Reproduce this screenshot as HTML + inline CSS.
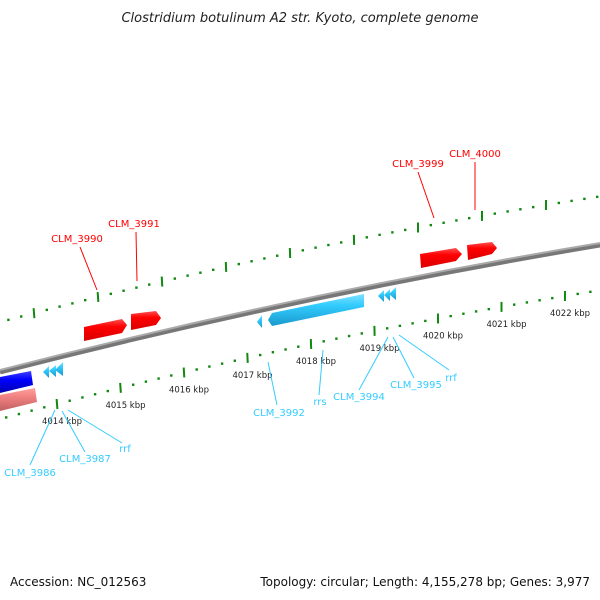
<!DOCTYPE html>
<html><head><meta charset="utf-8"><style>
html,body{margin:0;padding:0;background:#fff}
svg{display:block;font-family:"DejaVu Sans","Liberation Sans",sans-serif}
</style></head><body>
<svg id="map" width="600" height="600" viewBox="0 0 600 600">
<defs>
<linearGradient id="red" x1="0" y1="0" x2="0" y2="1"><stop offset="0" stop-color="#ff5050"/><stop offset="0.35" stop-color="#ff0000"/><stop offset="1" stop-color="#d80000"/></linearGradient>
<linearGradient id="cyan" x1="0" y1="0" x2="0" y2="1"><stop offset="0" stop-color="#7fe0ff"/><stop offset="0.35" stop-color="#33ccff"/><stop offset="1" stop-color="#1a99cc"/></linearGradient>
<linearGradient id="blue" x1="0" y1="0" x2="0" y2="1"><stop offset="0" stop-color="#4040ff"/><stop offset="0.4" stop-color="#0000ff"/><stop offset="1" stop-color="#0000b0"/></linearGradient>
<linearGradient id="pink" x1="0" y1="0" x2="0" y2="1"><stop offset="0" stop-color="#ffa0a0"/><stop offset="0.4" stop-color="#f08080"/><stop offset="1" stop-color="#c06060"/></linearGradient>
</defs>
<text x="300" y="22" text-anchor="middle" font-size="13" font-style="italic" fill="#222">Clostridium botulinum A2 str. Kyoto, complete genome</text>
<path d="M0,372 Q300,295 600,245" stroke="#777" stroke-width="5" fill="none"/>
<path d="M0,370 Q300,293 600,243" stroke="#aaa" stroke-width="2" fill="none"/>
<g id="lower"></g><g id="upper"></g>
<g>
<polygon points="84,327 122,319 127,325 122,333 84,341" fill="url(#red)"/>
<polygon points="131,314 156,311 161,318 156,325 131,330" fill="url(#red)"/>
<polygon points="420,254 456,248 462,254 456,261 421,268" fill="url(#red)"/>
<polygon points="467,245 492,242 497,248 492,254 468,260" fill="url(#red)"/>
<polygon points="268,320 272,313 364,294 364,307 272,326" fill="url(#cyan)"/>
<polygon points="257,322 262,315 262,328" fill="url(#cyan)"/>
<polygon points="378,296 384,290 384,302" fill="url(#cyan)"/>
<polygon points="384,295 390,289 390,301" fill="url(#cyan)"/>
<polygon points="389,294 396,287 396,300" fill="url(#cyan)"/>
<polygon points="43,372 49,366 49,378" fill="url(#cyan)"/>
<polygon points="49,371 56,365 56,377" fill="url(#cyan)"/>
<polygon points="55,370 63,362 63,376" fill="url(#cyan)"/>
<polygon points="0,377 31,371 33,385 0,393" fill="url(#blue)"/>
<polygon points="0,395 35,388 37,402 0,411" fill="url(#pink)"/>
</g>
<g font-size="10" fill="#ff0000" stroke-width="1">
<line x1="80" y1="247" x2="97" y2="290" stroke="#ff0000"/><text x="77" y="242" text-anchor="middle">CLM_3990</text>
<line x1="136" y1="232" x2="137" y2="281" stroke="#ff0000"/><text x="134" y="227" text-anchor="middle">CLM_3991</text>
<line x1="418" y1="172" x2="434" y2="218" stroke="#ff0000"/><text x="418" y="167" text-anchor="middle">CLM_3999</text>
<line x1="475" y1="162" x2="475" y2="210" stroke="#ff0000"/><text x="475" y="157" text-anchor="middle">CLM_4000</text>
</g>
<g font-size="10" fill="#33ccff">
<line x1="55" y1="410" x2="30" y2="465" stroke="#33ccff"/><text x="30" y="476" text-anchor="middle">CLM_3986</text>
<line x1="62" y1="411" x2="85" y2="452" stroke="#33ccff"/><text x="85" y="462" text-anchor="middle">CLM_3987</text>
<line x1="68" y1="410" x2="122" y2="443" stroke="#33ccff"/><text x="125" y="452" text-anchor="middle">rrf</text>
<line x1="268" y1="362" x2="277" y2="405" stroke="#33ccff"/><text x="279" y="416" text-anchor="middle">CLM_3992</text>
<line x1="323" y1="350" x2="319" y2="395" stroke="#33ccff"/><text x="320" y="405" text-anchor="middle">rrs</text>
<line x1="388" y1="337" x2="359" y2="390" stroke="#33ccff"/><text x="359" y="400" text-anchor="middle">CLM_3994</text>
<line x1="393" y1="337" x2="414" y2="378" stroke="#33ccff"/><text x="416" y="388" text-anchor="middle">CLM_3995</text>
<line x1="399" y1="335" x2="449" y2="370" stroke="#33ccff"/><text x="451" y="381" text-anchor="middle">rrf</text>
</g>
<text x="10" y="586" font-size="12" fill="#111">Accession: NC_012563</text>
<text x="590" y="586" font-size="12" fill="#111" text-anchor="end">Topology: circular; Length: 4,155,278 bp; Genes: 3,977</text>
</svg>
<script>
const tickKbp = [4014, 4015, 4016, 4017, 4018, 4019, 4020, 4021, 4022];
const tickLabels = ["4014 kbp","4015 kbp","4016 kbp","4017 kbp","4018 kbp","4019 kbp","4020 kbp","4021 kbp","4022 kbp"];
const minorStep = [0.2];
const NS = "http://www.w3.org/2000/svg";
function lowerPos(k){const t=k-4014;return [57+63.5*t,404-16.5*t+0.375*t*t];}
function upperPos(k){const t=k-4014;return [98+64*t,297-15.8*t+0.38*t*t];}
function slopeAt(f,k){const a=f(k-0.01),b=f(k+0.01);return Math.atan2(b[1]-a[1],b[0]-a[0]);}
function drawTrack(gid,f,kmin,kmax,labels){
  const g=document.getElementById(gid);
  
  
  const step=minorStep[0];
  for(let i=Math.ceil(kmin/step);i*step<=kmax;i++){
    const k=+(i*step).toFixed(3);
    const p=f(k);
    const major=tickKbp.indexOf(Math.round(k))>=0 && Math.abs(k-Math.round(k))<1e-6 || Math.abs(k-Math.round(k))<1e-6;
    const r=document.createElementNS(NS,'rect');
    if(major){
      const ang=slopeAt(f,k)*180/Math.PI;
      r.setAttribute('x',p[0]-1);r.setAttribute('y',p[1]-5);r.setAttribute('width',2);r.setAttribute('height',10);
      r.setAttribute('transform','rotate('+(ang+10)+' '+p[0]+' '+p[1]+')');
      
    } else {
      r.setAttribute('x',p[0]-1.2);r.setAttribute('y',p[1]-1.2);r.setAttribute('width',2.4);r.setAttribute('height',2.4);
      
    }
    
    r.setAttribute('fill','#118811');
    g.appendChild(r);
  }
  if(labels){
    tickKbp.forEach((k,i)=>{
      const p=f(k);
      const t=document.createElementNS(NS,'text');
      
      
      t.setAttribute('x',p[0]+5);t.setAttribute('y',p[1]+20);
      t.setAttribute('text-anchor','middle');t.setAttribute('font-size','8.5');t.setAttribute('fill','#222');
      t.textContent=tickLabels[i];
      g.appendChild(t);
    });
  }
}
drawTrack('lower',lowerPos,4013.2,4022.6,true);
drawTrack('upper',upperPos,4012.4,4021.8,false);
</script>
</body></html>
